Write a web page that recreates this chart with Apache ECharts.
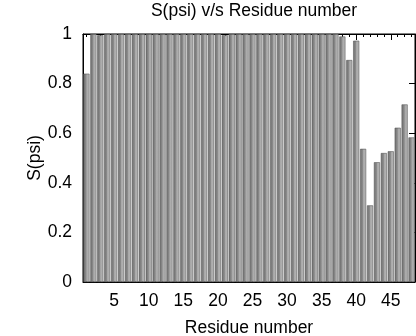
<!DOCTYPE html>
<html>
<head>
<meta charset="utf-8">
<script src="https://cdn.jsdelivr.net/npm/echarts@6/dist/echarts.min.js"></script>
<style>
  html, body { margin: 0; padding: 0; background: #fff; }
  #chart { width: 416px; height: 336px; }
</style>
</head>
<body>
<div id="chart"></div>
<script>
// Order parameter S(psi) for each residue
const residues = [];
for (let i = 1; i <= 48; i++) residues.push(String(i));

const spsi = [
  0.84, 1.00, 0.995, 1.00, 1.00, 1.00, 1.00, 1.00, 1.00, 1.00,
  1.00, 1.00, 1.00, 1.00, 1.00, 1.00, 1.00, 1.00, 1.00, 1.00,
  0.995, 1.00, 1.00, 1.00, 1.00, 1.00, 1.00, 1.00, 1.00, 1.00,
  1.00, 1.00, 1.00, 1.00, 1.00, 1.00, 1.00, 0.99, 0.895, 0.973,
  0.537, 0.309, 0.483, 0.52, 0.527, 0.622, 0.716, 0.583
];

const yTicks = [0, 0.2, 0.4, 0.6, 0.8, 1];

const fontFam = 'Liberation Sans, Arial, sans-serif';
const fontSz = 17.5;
const isMajor = (idx) => (idx + 1) % 5 === 0;

const chart = echarts.init(document.getElementById('chart'));

function catAxis(pos, major, show) {
  return {
    type: 'category',
    data: residues,
    position: pos,
    boundaryGap: true,
    axisLine: { show: show, lineStyle: { color: '#000', width: 1 } },
    axisTick: {
      show: true,
      inside: true,
      alignWithLabel: true,
      length: major ? 6 : 3,
      interval: major ? (i) => isMajor(i) : 0,
      lineStyle: { color: '#000', width: 1 }
    },
    axisLabel: { show: false },
    splitLine: { show: false }
  };
}

const xMain = catAxis('bottom', true, true);
xMain.axisLabel = {
  show: true,
  interval: (i) => isMajor(i),
  color: '#000',
  fontFamily: fontFam,
  fontSize: fontSz,
  margin: 10
};
xMain.name = 'Residue number';
xMain.nameLocation = 'middle';
xMain.nameGap = 37;
xMain.nameMoveOverlap = false;
xMain.nameTextStyle = { color: '#000', fontFamily: fontFam, fontSize: fontSz };

chart.setOption({
  animation: false,
  backgroundColor: '#fff',
  title: {
    text: 'S(psi) v/s Residue number',
    left: 249,
    textAlign: 'center',
    top: 0,
    padding: [2, 5, 5, 5],
    textStyle: { color: '#000', fontFamily: fontFam, fontSize: fontSz, fontWeight: 'normal' }
  },
  grid: {
    left: 83, right: 1, top: 34, bottom: 54,
    outerBoundsMode: 'none', containLabel: false,
    show: true, borderColor: '#000', borderWidth: 1, backgroundColor: 'transparent'
  },
  xAxis: [
    xMain,
    catAxis('bottom', false, false),
    catAxis('top', true, true),
    catAxis('top', false, false)
  ],
  yAxis: [
    {
      type: 'value', min: 0, max: 1, interval: 0.2, position: 'left',
      name: 'S(psi)', nameLocation: 'middle', nameGap: 39, nameRotate: 90,
      nameMoveOverlap: false,
      nameTextStyle: { color: '#000', fontFamily: fontFam, fontSize: fontSz },
      axisLine: { show: true, lineStyle: { color: '#000' } },
      axisTick: { show: true, inside: true, length: 6, lineStyle: { color: '#000' } },
      axisLabel: {
        color: '#000', fontFamily: fontFam, fontSize: fontSz, margin: 11,
        formatter: (v) => yTicks.includes(Math.round(v * 10) / 10) ? String(Math.round(v * 10) / 10) : ''
      },
      splitLine: { show: false }
    },
    {
      type: 'value', min: 0, max: 1, interval: 0.2, position: 'right',
      axisLine: { show: true, lineStyle: { color: '#000' } },
      axisTick: { show: true, inside: true, length: 6, lineStyle: { color: '#000' } },
      axisLabel: { show: false },
      splitLine: { show: false }
    }
  ],
  series: [{
    type: 'bar',
    xAxisIndex: 0,
    yAxisIndex: 0,
    data: spsi,
    barCategoryGap: '12%',
    itemStyle: {
      color: new echarts.graphic.LinearGradient(0, 0, 1, 0, [
        { offset: 0, color: '#6e6e6e' },
        { offset: 0.45, color: '#8c8c8c' },
        { offset: 0.55, color: '#a8a8a8' },
        { offset: 1, color: '#b8b8b8' }
      ]),
      borderColor: '#5a5a5a',
      borderWidth: 0.6
    },
    z: 1
  }]
});
</script>
</body>
</html>
